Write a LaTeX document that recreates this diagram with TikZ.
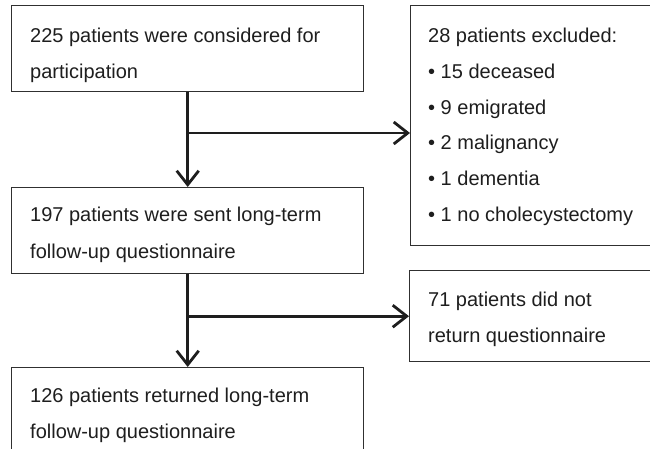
\documentclass[tikz,border=0pt]{standalone}
\usepackage{fontspec}
\setmainfont{Liberation Sans}
\usetikzlibrary{arrows.meta}
\definecolor{ink}{HTML}{1E1E1E}
\definecolor{boxline}{HTML}{303030}
\tikzset{
  boxnode/.style={draw=boxline, line width=1.4pt, rectangle, inner sep=0pt, anchor=north west},
  txt/.style={anchor=base west, inner sep=0pt, text=ink, align=left, font=\fontsize{20}{36}\selectfont},
  arr/.style={draw=ink, line width=2.8pt, -{Straight Barb[length=14pt,width=22pt,line width=2.8pt]}},
}
\begin{document}
\begin{tikzpicture}[x=1pt,y=-1pt]
\useasboundingbox (0,0) rectangle (650,449);
\clip (0,0) rectangle (650,449);
% boxes
\node[boxnode, minimum width=352pt, minimum height=86pt] (b1) at (11,5) {};
\node[boxnode, minimum width=300pt, minimum height=240pt] (b2) at (410,5) {};
\node[boxnode, minimum width=352pt, minimum height=86pt] (b3) at (11,187) {};
\node[boxnode, minimum width=300pt, minimum height=91pt] (b4) at (409,270) {};
\node[boxnode, minimum width=352pt, minimum height=120pt] (b5) at (11,367) {};
% texts (anchored at the baseline of their last line)
\node[txt] (t1) at (30,79) {225 patients were considered for\\participation};
\node[txt, font=\fontsize{20}{35.6}\selectfont] (t2) at (428,221) {28 patients excluded:\\• 15 deceased\\• 9 emigrated\\• 2 malignancy\\• 1 dementia\\• 1 no cholecystectomy};
\node[txt] (t3) at (30,258) {197 patients were sent long-term\\follow-up questionnaire};
\node[txt] (t4) at (428,342) {71 patients did not\\return questionnaire};
\node[txt] (t5) at (30,438) {126 patients returned long-term\\follow-up questionnaire};
% connectors
\coordinate (j1) at (187,133);
\draw[arr] (b1.south) -- (b3.north);
\draw[arr] (j1) -- (j1 -| b2.west);
\draw[arr] (b3.south) -- (b5.north);
\draw[arr] (b3.south |- b4.west) -- (b4.west);
\end{tikzpicture}
\end{document}
